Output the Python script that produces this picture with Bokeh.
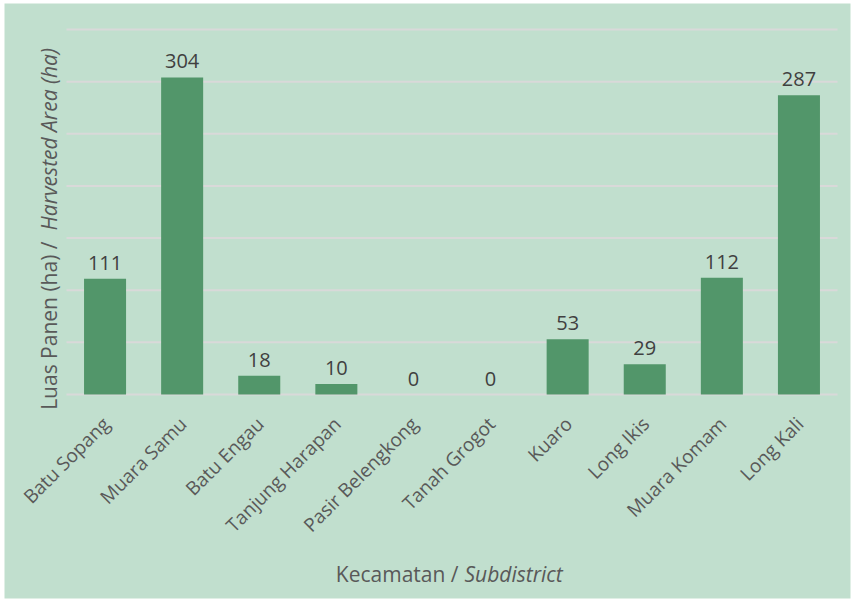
import math
from bokeh.plotting import figure
from bokeh.models import Label, Range1d, ColumnDataSource
from bokeh.core.properties import value
from bokeh.embed import file_html
from bokeh.resources import INLINE

# ---- data ----
subdistricts = ["Batu Sopang", "Muara Samu", "Batu Engau", "Tanjung Harapan",
                "Pasir Belengkong", "Tanah Grogot", "Kuaro", "Long Ikis",
                "Muara Komam", "Long Kali"]
harvested_area = [111, 304, 18, 10, 0, 0, 53, 29, 112, 287]
y_gridlines = [0, 50, 100, 150, 200, 250, 300, 350]
y_title_normal = "Luas Panen (ha) /"
y_title_italic = "Harvested Area (ha)"
x_title_normal = "Kecamatan /"
x_title_italic = "Subdistrict"

# ---- styling / layout ----
BG = "#C1DFCE"
BAR = "#52966A"
GRID = "#D9D9D9"
LABEL_C = "#404040"
TITLE_C = "#595959"
FONT = "Open Sans"

W, H = 852, 600
FL, FT, FR, FB = 4, 3, 850, 598          # frame (chart background) in canvas px
PL, PT, PR, PB = 66, 29, 837, 394         # plotting area in canvas px
n = len(subdistricts)
y_max = y_gridlines[-1]
px_x = (PR - PL) / n                      # px per category
px_y = (PB - PT) / y_max                  # px per unit

x_range = Range1d(-0.5 - (PL - FL) / px_x, n - 0.5 + (FR - PR) / px_x)
y_range = Range1d(-(FB - PB) / px_y, y_max + (PT - FT) / px_y)

p = figure(width=W, height=H, x_range=x_range, y_range=y_range,
           output_backend="svg", toolbar_location=None,
           x_axis_location=None, y_axis_location=None,
           min_border_left=FL, min_border_top=FT,
           min_border_right=W - FR, min_border_bottom=H - FB)
p.background_fill_color = BG
p.border_fill_color = "white"
p.outline_line_color = None
p.grid.visible = False

xs = list(range(n))

# gridlines
p.segment(x0=[-0.5] * len(y_gridlines), x1=[n - 0.5] * len(y_gridlines),
          y0=y_gridlines, y1=y_gridlines, line_color=GRID, line_width=2)

src = ColumnDataSource(dict(x=xs, top=harvested_area, name=subdistricts,
                            lbl=[str(v) for v in harvested_area],
                            zero=[0] * n))
p.vbar(x="x", top="top", width=0.545, source=src, fill_color=BAR, line_color=None)

# data labels
p.text(x="x", y="top", text="lbl", source=src, text_align="center",
       text_baseline="alphabetic", y_offset=-16, text_font_size="20px",
       text_color=LABEL_C, text_font=value(FONT))

# category labels (rotated 45 degrees)
p.text(x="x", y="zero", text="name", source=src, angle=math.pi / 4,
       text_align="right", text_baseline="middle", x_offset=1, y_offset=26,
       text_font_size="19px", text_color=TITLE_C, text_font=value(FONT))

# screen units of Label are relative to the frame's bottom-left corner
def lx(px):
    return px - FL

def ly(py):
    return FB - py

common = dict(x_units="screen", y_units="screen", text_font=FONT,
              text_font_size="21px", text_color=TITLE_C, text_baseline="alphabetic")

# y-axis title (normal + italic)
p.add_layout(Label(x=lx(48), y=ly(241), text=y_title_normal, angle=math.pi / 2,
                   text_align="right", **common))
p.add_layout(Label(x=lx(48), y=ly(230), text=y_title_italic, angle=math.pi / 2,
                   text_align="left", text_font_style="italic", **common))

# x-axis title (normal + italic)
p.add_layout(Label(x=lx(458), y=ly(573), text=x_title_normal, text_align="right", **common))
p.add_layout(Label(x=lx(464), y=ly(573), text=x_title_italic, text_align="left",
                   text_font_style="italic", **common))

open("out.html", "w").write(file_html(p, INLINE))
